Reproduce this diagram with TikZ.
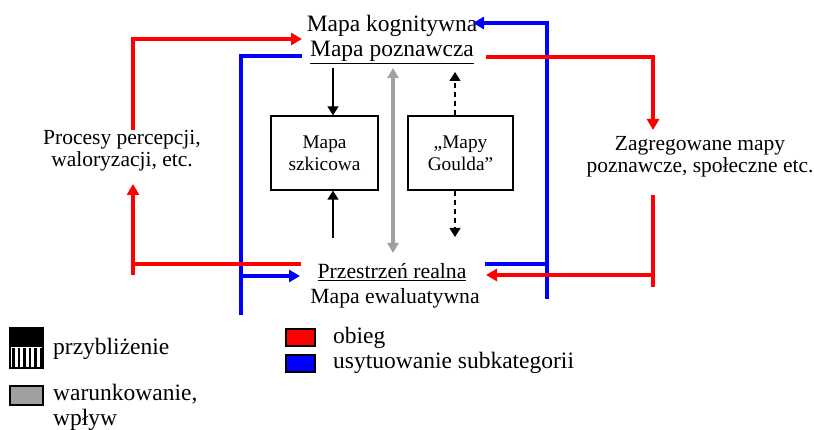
\documentclass[tikz,border=0pt]{standalone}
\usepackage{fontspec}
\setmainfont{Liberation Serif}
\usetikzlibrary{arrows.meta}
\definecolor{cred}{RGB}{255,0,0}
\definecolor{cblue}{RGB}{0,0,255}
\definecolor{cgray}{RGB}{160,160,160}
\begin{document}
\begin{tikzpicture}[x=1pt,y=-1pt,
  redl/.style={draw=cred,line width=4pt},
  bluel/.style={draw=cblue,line width=4pt},
  colarrow/.style={-{Triangle[length=11pt,width=12pt]}},
  blk/.style={draw=black,line width=1.3pt,-{Triangle[length=9pt,width=11pt]}},
  dsh/.style={blk,dash pattern=on 5pt off 4pt},
  gry/.style={draw=cgray,line width=4pt,{Triangle[length=10pt,width=11pt]}-{Triangle[length=10pt,width=11pt]}},
  maintext/.style={font=\fontsize{23.5}{26}\selectfont,inner sep=0pt},
  bottext/.style={font=\fontsize{21.7}{24}\selectfont,inner sep=0pt},
  sidetext/.style={font=\fontsize{21.5}{22}\selectfont,align=center,inner sep=0pt},
  mapbox/.style={draw=black,line width=1.3pt,fill=white,minimum height=74pt,align=center,font=\fontsize{19.3}{22}\selectfont,inner sep=0pt},
  legbox/.style={draw=black,line width=1.3pt,minimum width=29pt,minimum height=17pt,inner sep=0pt},
]
\useasboundingbox (0,0) rectangle (814,430);

% texts
\node[maintext,anchor=base] (kog) at (392,32) {Mapa kognitywna};
\node[maintext,anchor=base] (pozn) at (392,57) {\underline{Mapa poznawcza}};
\node[bottext,anchor=base] (przes) at (392,279) {\underline{Przestrzeń realna}};
\node[bottext,anchor=base] (ewal) at (395,304) {Mapa ewaluatywna};
\node[sidetext] (proc) at (122,151) {Procesy percepcji,\\waloryzacji, etc.};
\node[sidetext] (zag) at (700,157) {Zagregowane mapy\\poznawcze, społeczne etc.};

% boxes
\node[mapbox,minimum width=107pt] (szk) at (324.5,153) {Mapa\\szkicowa};
\node[mapbox,minimum width=105pt] (gould) at (460.5,153) {„Mapy\\Goulda”};

% named free ends
\coordinate (ktop) at (333,68);
\coordinate (kbot) at (333,238);
\coordinate (gtop) at (455,72);
\coordinate (gbot) at (455,237);
\coordinate (graytop) at (393,68);
\coordinate (graybot) at (393,253);

% blue paths
\coordinate (bl1) at (302,56);
\coordinate (bl2) at (241,56);
\coordinate (bl3) at (241,315);
\coordinate (bl4) at (241,276);
\coordinate (bl5) at (300,276);
\draw[bluel] (bl1) -- (bl2) -- (bl3);
\draw[bluel,colarrow] (bl4) -- (bl5);
\coordinate (br1) at (547,299);
\coordinate (br2) at (547,23);
\coordinate (br3) at (473,23);
\coordinate (br4) at (485,264);
\draw[bluel,colarrow] (br1) -- (br2) -- (br3);
\draw[bluel] (br4) -- (br1 |- br4);

% red paths
\coordinate (rl1) at (133,130);
\coordinate (rl2) at (133,39);
\coordinate (rl3) at (302,39);
\draw[redl,colarrow] (rl1) -- (rl2) -- (rl3);
\coordinate (rl4) at (133,275);
\coordinate (rl5) at (133,184);
\coordinate (rl6) at (133,264);
\coordinate (rl7) at (301,264);
\draw[redl,colarrow] (rl4) -- (rl5);
\draw[redl] (rl6) -- (rl7);
\coordinate (rr1) at (486,57);
\coordinate (rr2) at (653,57);
\coordinate (rr3) at (653,130);
\draw[redl,colarrow] (rr1) -- (rr2) -- (rr3);
\coordinate (rr4) at (653,195);
\coordinate (rr5) at (653,287);
\coordinate (rr6) at (653,275);
\coordinate (rr7) at (486,275);
\draw[redl] (rr4) -- (rr5);
\draw[redl,colarrow] (rr6) -- (rr7);

% black and gray arrows
\draw[blk] (ktop) -- (ktop |- szk.north);
\draw[blk] (kbot) -- (kbot |- szk.south);
\draw[dsh] (gtop |- gould.north) -- (gtop);
\draw[dsh] (gbot |- gould.south) -- (gbot);
\draw[gry] (graytop) -- (graybot);

% legend
\node[draw=black,line width=1.3pt,minimum width=33pt,minimum height=40pt,inner sep=0pt] (legA) at (26.5,348) {};
\fill[black] (legA.north west) rectangle ([yshift=-20pt]legA.north east);
\foreach \i in {0,...,5} \fill[black] (12+\i*5.6,348) rectangle (14.6+\i*5.6,368);
\draw[black,line width=1.3pt] (legA.north west) rectangle (legA.south east);
\node[maintext,anchor=base west] (legAt) at (53,354) {przybliżenie};

\node[legbox,fill=cgray,minimum width=33pt,minimum height=19pt] (legB) at (26.5,395.5) {};
\node[maintext,anchor=base west] (legBt) at (53,400) {warunkowanie,};
\node[maintext,anchor=base west] (legBt2) at (53,425) {wpływ};

\node[legbox,fill=cred] (legC) at (300.5,337.5) {};
\node[maintext,anchor=base west] (legCt) at (333,344) {obieg};
\node[legbox,fill=cblue] (legD) at (300.5,363.5) {};
\node[maintext,anchor=base west] (legDt) at (333,368) {usytuowanie subkategorii};
\end{tikzpicture}
\end{document}
